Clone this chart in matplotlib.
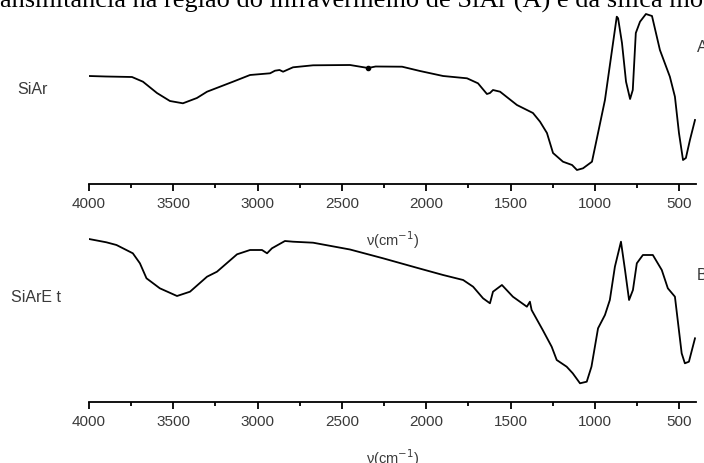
import matplotlib
matplotlib.use("Agg")
import matplotlib.pyplot as plt
from matplotlib.ticker import MultipleLocator

# FTIR spectra (transmittance, arbitrary units)
wn_a = [4000, 3900, 3745, 3680, 3597, 3520, 3443, 3360, 3300, 3146, 3045, 2926,
        2897, 2870, 2849, 2790, 2671, 2452, 2345, 2300, 2143, 2037, 1900, 1758,
        1693, 1640, 1622, 1604, 1562, 1462, 1367, 1325, 1284, 1248, 1189, 1135,
        1106, 1070, 1017, 981, 940, 898, 870, 862, 839, 815, 791, 775, 757, 732,
        697, 661, 614, 555, 525, 501, 477, 460, 436, 406]
t_a = [108, 107.5, 107, 102.3, 91, 83, 80.7, 86, 92.3, 102.3, 109, 110.7,
       113.3, 114, 112.3, 116.7, 118.7, 119, 116, 117.5, 117.3, 113, 108, 105.7,
       100.7, 90, 91, 94, 92.3, 79, 71, 62.3, 51, 31, 22.3, 19,
       14, 15.7, 22.3, 51, 84, 134, 167.3, 165.7, 141, 102.3, 85, 94, 151, 162.3,
       170, 168, 134, 107.3, 87.3, 51, 24, 26, 44, 64]

wn_b = [4000, 3897, 3837, 3740, 3698, 3659, 3580, 3478, 3401, 3300, 3241, 3122,
        3045, 2974, 2944, 2915, 2838, 2790, 2671, 2452, 2256, 2057, 1900, 1781,
        1722, 1663, 1622, 1604, 1551, 1486, 1403, 1385, 1375, 1309, 1256, 1226,
        1167, 1131, 1088, 1048, 1020, 981, 940, 911, 881, 845, 821, 797, 774,
        751, 715, 656, 603, 567, 525, 485, 466, 442, 406]
t_b = [163, 159.7, 157, 148.7, 138.7, 123.7, 113.7, 106, 110.3, 125.3, 130.3, 147.7,
       152, 152, 148.7, 153.7, 161, 160.3, 159.3, 152.5, 143.7, 134.3, 127, 122,
       115.3, 103.7, 98.7, 110.3, 117, 105.3, 95.3, 100.3, 92, 72, 55.3, 42,
       35.3, 28.7, 18.7, 20.3, 35.3, 73.7, 87, 102, 135.3, 160.3, 132, 102, 112,
       138.7, 147, 147, 132, 113.7, 105.3, 48.7, 38.7, 40.3, 63.7]

amostras = ["SiAr", "SiArE t"]
letras = ["A", "B"]

plt.rcParams['font.family'] = 'Liberation Sans'
cinza = "#3a3a3a"

W, H = 704, 463
fig = plt.figure(figsize=(W / 100, H / 100), dpi=100)

# legenda cortada no topo
fig.text(0.0, 1 - 7.5 / H,
         "ansmitância na região do infravermelho de SiAr (A) e da sílica modificada",
         fontfamily="Liberation Serif", fontsize=19, va="baseline", ha="left")

ax1 = fig.add_axes([89 / W, 1 - 184 / H, 607 / W, 174 / H])
ax2 = fig.add_axes([89 / W, 1 - 402 / H, 607 / W, 174 / H])

for ax, wn, t in [(ax1, wn_a, t_a), (ax2, wn_b, t_b)]:
    ax.plot(wn, t, color="black", linewidth=1.3)
    ax.set_xlim(4000, 400)
    ax.set_ylim(0, 174)
    for s in ["top", "left", "right"]:
        ax.spines[s].set_visible(False)
    ax.spines["bottom"].set_linewidth(1.3)
    ax.set_yticks([])
    ax.xaxis.set_major_locator(MultipleLocator(500))
    ax.xaxis.set_minor_locator(MultipleLocator(250))
    ax.tick_params(axis="x", which="major", direction="out", length=5, width=1.3,
                   pad=4, labelsize=11, labelcolor=cinza)
    ax.tick_params(axis="x", which="minor", direction="out", length=3, width=1.3)
    ax.set_xlabel("ν(cm$^{-1}$)", fontsize=10.5, color=cinza, labelpad=13.5)
    ax.patch.set_alpha(0)

# marcador do CO2
ax1.plot([2345], [116], marker="o", markersize=3, color="black")

fig.text(17 / W, 1 - 90 / H, amostras[0], fontsize=11.5, color=cinza, va="center")
fig.text(11 / W, 1 - 298 / H, amostras[1], fontsize=11.5, color=cinza, va="center")
fig.text(697 / W, 1 - 48 / H, letras[0], fontsize=11.5, color=cinza, va="center")
fig.text(697 / W, 1 - 275 / H, letras[1], fontsize=11.5, color=cinza, va="center")

fig.savefig("out.png", dpi=100)
